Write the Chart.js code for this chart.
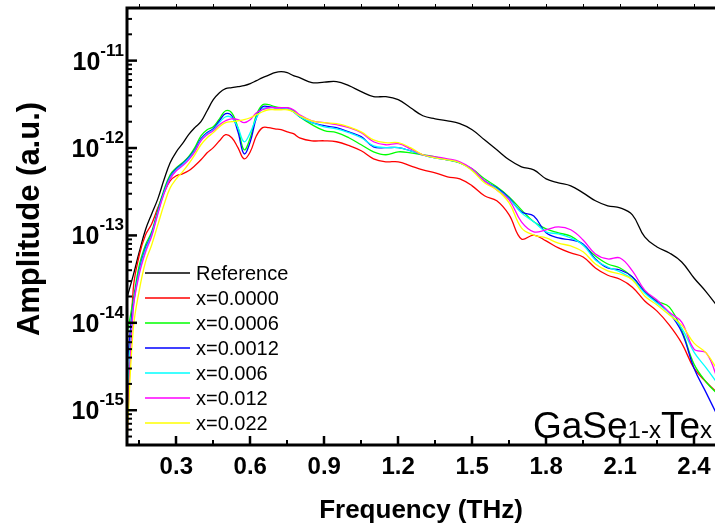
<!DOCTYPE html>
<html><head><meta charset="utf-8">
<script src="https://cdn.jsdelivr.net/npm/chart.js@4.4.0/dist/chart.umd.min.js"></script>
<style>
html,body{margin:0;padding:0;overflow:hidden;background:#fff;width:715px;height:530px}
#wrap{position:relative;width:745px;height:530px}
canvas{display:block}
</style></head>
<body><div id="wrap"><canvas id="c" width="745" height="530"></canvas></div>
<script>
// ---------- data ----------
const freq = [0.1,0.125,0.15,0.175,0.2,0.225,0.25,0.275,0.3,0.325,0.35,0.375,0.4,0.425,0.45,0.475,0.5,0.525,0.55,0.575,0.6,0.625,0.65,0.675,0.7,0.725,0.75,0.775,0.8,
  0.85,0.9,0.95,1.0,1.05,1.1,1.15,1.2,1.25,1.3,1.35,1.4,1.45,1.5,1.55,1.6,1.65,1.7,1.75,1.8,1.85,1.9,1.95,2.0,2.05,2.1,2.15,2.2,2.25,2.3,2.35,2.4,2.45,2.5];

const reference = [1.94e-14,3.46e-14,6.5e-14,1.16e-13,1.76e-13,2.62e-13,4.33e-13,6.78e-13,9.05e-13,1.12e-12,1.42e-12,1.71e-12,2.0e-12,2.67e-12,3.57e-12,4.3e-12,4.78e-12,4.9e-12,5.04e-12,5.17e-12,5.45e-12,5.9e-12,6.39e-12,6.82e-12,7.29e-12,7.48e-12,7.29e-12,6.73e-12,6.39e-12,
  5.6e-12,5.67e-12,5.75e-12,5.17e-12,4.41e-12,3.87e-12,3.87e-12,3.57e-12,2.89e-12,2.34e-12,2.16e-12,2.05e-12,1.9e-12,1.62e-12,1.24e-12,9.55e-13,7.33e-13,6.1e-13,5.63e-13,4.44e-13,4.0e-13,3.69e-13,3.07e-13,2.49e-13,2.18e-13,2.07e-13,1.72e-13,9.6e-14,7.38e-14,6.3e-14,4.97e-14,3.26e-14,2.25e-14,1.48e-14];

const x0000 = [5.9e-16,2.37e-14,5.97e-14,1.01e-13,1.35e-13,2.07e-13,3.07e-13,4.21e-13,4.81e-13,5.07e-13,5.49e-13,6.26e-13,7.33e-13,8.82e-13,1.01e-12,1.21e-12,1.42e-12,1.31e-12,1.01e-12,7.53e-13,9.05e-13,1.38e-12,1.71e-12,1.71e-12,1.66e-12,1.62e-12,1.53e-12,1.46e-12,1.31e-12,
  1.21e-12,1.21e-12,1.18e-12,1.07e-12,9.3e-13,7.53e-13,6.96e-13,6.96e-13,6.26e-13,5.63e-13,5.2e-13,4.68e-13,4.44e-13,3.69e-13,2.84e-13,2.49e-13,1.72e-13,9.1e-14,1.01e-13,8.65e-14,7.19e-14,6.3e-14,5.67e-14,4.24e-14,3.5e-14,3.15e-14,2.56e-14,1.78e-14,1.36e-14,9.42e-15,5.86e-15,3.03e-15,2.09e-15,1.53e-15];

const x0006 = [7.24e-15,1.82e-14,4.59e-14,7.78e-14,1.1e-13,1.96e-13,3.32e-13,4.94e-13,5.94e-13,6.78e-13,7.94e-13,1.01e-12,1.38e-12,1.62e-12,1.75e-12,2.16e-12,2.67e-12,2.53e-12,1.71e-12,9.55e-13,1.31e-12,2.4e-12,3.13e-12,3.13e-12,2.97e-12,2.89e-12,2.89e-12,2.67e-12,2.28e-12,
  1.85e-12,1.58e-12,1.5e-12,1.31e-12,1.09e-12,9.05e-13,8.37e-13,9.05e-13,8.82e-13,8.37e-13,7.94e-13,7.33e-13,6.78e-13,5.78e-13,4.44e-13,3.6e-13,2.76e-13,1.96e-13,1.43e-13,1.19e-13,1.07e-13,9.8e-14,7.78e-14,5.82e-14,4.71e-14,4.24e-14,3.35e-14,2.31e-14,1.78e-14,1.51e-14,8.26e-15,3.37e-15,2.09e-15,1.49e-15];

const x0012 = [3.28e-15,1.6e-14,4.02e-14,7.19e-14,1.04e-13,1.86e-13,3.15e-13,4.68e-13,5.78e-13,6.6e-13,7.73e-13,9.55e-13,1.28e-12,1.5e-12,1.66e-12,2.05e-12,2.47e-12,2.34e-12,1.53e-12,8.59e-13,1.18e-12,2.22e-12,2.97e-12,2.97e-12,2.89e-12,2.89e-12,2.82e-12,2.6e-12,2.28e-12,
  1.95e-12,1.8e-12,1.71e-12,1.53e-12,1.35e-12,1.03e-12,1.01e-12,1.01e-12,9.3e-13,8.37e-13,7.73e-13,7.33e-13,6.78e-13,5.63e-13,4.21e-13,3.5e-13,2.69e-13,1.86e-13,1.67e-13,1.07e-13,9.35e-14,8.88e-14,8.0e-14,5.38e-14,4.24e-14,4.02e-14,3.35e-14,2.25e-14,1.73e-14,1.29e-14,7.83e-15,3.03e-15,1.57e-15,8.1e-16];

const x006 = [1.3e-15,1.48e-14,3.82e-14,6.82e-14,1.01e-13,1.81e-13,3.07e-13,4.56e-13,5.63e-13,6.43e-13,7.53e-13,9.3e-13,1.24e-12,1.46e-12,1.62e-12,1.95e-12,2.28e-12,2.22e-12,1.71e-12,1.18e-12,1.5e-12,2.22e-12,2.82e-12,2.89e-12,2.89e-12,2.89e-12,2.82e-12,2.6e-12,2.28e-12,
  1.95e-12,1.75e-12,1.66e-12,1.5e-12,1.31e-12,1.06e-12,1.01e-12,1.01e-12,9.3e-13,8.37e-13,7.73e-13,7.33e-13,6.78e-13,5.63e-13,4.21e-13,3.41e-13,2.62e-13,1.81e-13,1.43e-13,1.1e-13,1.04e-13,9.35e-14,7.78e-14,5.24e-14,4.35e-14,3.82e-14,3.15e-14,2.19e-14,1.68e-14,1.29e-14,8.71e-15,4.62e-15,3.03e-15,1.94e-15];

const x012 = [4.5e-16,1.4e-14,3.62e-14,6.43e-14,9.8e-14,1.76e-13,2.99e-13,4.44e-13,5.49e-13,6.26e-13,7.33e-13,9.05e-13,1.21e-12,1.42e-12,1.58e-12,1.85e-12,2.05e-12,2.16e-12,2.11e-12,1.95e-12,2.11e-12,2.53e-12,2.74e-12,2.89e-12,2.89e-12,2.89e-12,2.89e-12,2.74e-12,2.4e-12,
  2.05e-12,1.95e-12,1.85e-12,1.71e-12,1.5e-12,1.18e-12,1.09e-12,1.12e-12,9.8e-13,8.37e-13,7.94e-13,7.53e-13,6.96e-13,5.78e-13,4.21e-13,3.32e-13,2.55e-13,1.43e-13,1.1e-13,1.16e-13,1.25e-13,1.16e-13,8.88e-14,6.14e-14,5.38e-14,5.52e-14,3.92e-14,2.37e-14,1.82e-14,1.32e-14,1.02e-14,5.0e-15,4.5e-15,2.09e-15];

const x022 = [4.5e-16,8.26e-15,2.37e-14,4.97e-14,7.78e-14,1.32e-13,2.24e-13,3.5e-13,4.44e-13,5.34e-13,6.6e-13,8.37e-13,1.09e-12,1.31e-12,1.5e-12,1.75e-12,1.95e-12,2.0e-12,2.05e-12,2.11e-12,2.22e-12,2.4e-12,2.6e-12,2.74e-12,2.74e-12,2.74e-12,2.74e-12,2.6e-12,2.34e-12,
  2.05e-12,1.95e-12,1.9e-12,1.75e-12,1.53e-12,1.24e-12,1.15e-12,1.15e-12,1.01e-12,8.37e-13,7.73e-13,7.33e-13,6.78e-13,5.49e-13,4.0e-13,3.32e-13,2.36e-13,1.22e-13,1.01e-13,9.35e-14,8.15e-14,7.58e-14,6.5e-14,4.71e-14,3.92e-14,3.62e-14,3.09e-14,2.03e-14,1.6e-14,1.23e-14,9.42e-15,5.86e-15,4.5e-15,2.73e-15];

const seriesLabels = ['Reference','x=0.0000','x=0.0006','x=0.0012','x=0.006','x=0.012','x=0.022'];
const seriesValues = [reference, x0000, x0006, x0012, x006, x012, x022];
const seriesColors = ['#000000','#ff0000','#00ff00','#0000ff','#00ffff','#ff00ff','#ffff00'];

const xMajorTicks = [0.3,0.6,0.9,1.2,1.5,1.8,2.1,2.4];
const xMajorLabels = ['0.3','0.6','0.9','1.2','1.5','1.8','2.1','2.4'];
const xMinorTicks = [0.15,0.45,0.75,1.05,1.35,1.65,1.95,2.25,2.55];
const yMajorTicks = [1e-15,1e-14,1e-13,1e-12,1e-11];
const yTickExponents = ['-15','-14','-13','-12','-11'];
const xTitle = 'Frequency (THz)';
const yTitle = 'Amplitude (a.u.)';

const FONT = '"Liberation Sans", Arial, Helvetica, sans-serif';

// ---------- decorations drawn with the chart's own scales ----------
const decor = {
  id: 'decor',
  afterDraw(chart) {
    const {ctx, chartArea: a, scales: {x, y}} = chart;
    const seg = (x1, y1, x2, y2) => { ctx.beginPath(); ctx.moveTo(x1, y1); ctx.lineTo(x2, y2); ctx.stroke(); };
    ctx.save();
    ctx.strokeStyle = '#000'; ctx.fillStyle = '#000';

    // bottom ticks (inward)
    ctx.lineWidth = 2.5;
    xMajorTicks.forEach(v => { const p = Math.round(x.getPixelForValue(v)); seg(p, a.bottom, p, a.bottom - 9); });
    ctx.lineWidth = 2;
    xMinorTicks.forEach(v => { const p = Math.round(x.getPixelForValue(v)); seg(p, a.bottom, p, a.bottom - 5); });
    // top ticks (short, outward)
    ctx.lineWidth = 1;
    xMajorTicks.concat(xMinorTicks).forEach(v => { const p = Math.round(x.getPixelForValue(v)) + 0.5; seg(p, a.top, p, a.top - 4); });

    // left ticks (inward)
    ctx.lineWidth = 2.5;
    yMajorTicks.forEach(v => { const p = y.getPixelForValue(v); seg(a.left, p, a.left + 10, p); });
    ctx.lineWidth = 2;
    for (let k = -16; k <= -11; k++) {
      for (let m = 2; m <= 9; m++) {
        const v = m * Math.pow(10, k);
        if (v < y.min || v > y.max) continue;
        const p = y.getPixelForValue(v);
        seg(a.left, p, a.left + 5, p);
      }
    }

    // frame
    ctx.lineWidth = 3;
    ctx.beginPath();
    ctx.moveTo(a.right, a.bottom); ctx.lineTo(a.left, a.bottom); ctx.lineTo(a.left, a.top); ctx.lineTo(a.right, a.top); ctx.lineTo(a.right, a.bottom);
    ctx.stroke();

    // x tick labels
    ctx.font = 'bold 24px ' + FONT;
    ctx.textAlign = 'center'; ctx.textBaseline = 'alphabetic';
    xMajorTicks.forEach((v, i) => ctx.fillText(xMajorLabels[i], x.getPixelForValue(v), 474));

    // y tick labels: 10 with superscript exponent
    yMajorTicks.forEach((v, i) => {
      const p = y.getPixelForValue(v);
      ctx.font = 'bold 17px ' + FONT;
      const ew = ctx.measureText(yTickExponents[i]).width;
      const L = 124 - ew;
      ctx.textAlign = 'left';
      ctx.fillText(yTickExponents[i], L, p - 5);
      ctx.font = 'bold 25px ' + FONT;
      ctx.textAlign = 'right';
      ctx.fillText('10', L, p + 9);
    });

    // axis titles
    ctx.font = 'bold 26px ' + FONT;
    ctx.textAlign = 'center';
    ctx.fillText(xTitle, 421, 518);
    ctx.save();
    ctx.translate(39, 219);
    ctx.rotate(-Math.PI / 2);
    ctx.font = 'bold 31px ' + FONT;
    ctx.fillText(yTitle, 0, 0);
    ctx.restore();

    // legend inside plot
    ctx.font = '20px ' + FONT;
    ctx.textAlign = 'left'; ctx.textBaseline = 'middle';
    chart.data.datasets.forEach((ds, i) => {
      const ry = 273 + i * 25;
      ctx.strokeStyle = ds.borderColor; ctx.lineWidth = 1.3;
      seg(145, ry, 190, ry);
      ctx.fillStyle = '#000';
      ctx.fillText(ds.label, 196, ry + 1);
    });

    // compound label GaSe1-xTex
    ctx.textBaseline = 'alphabetic';
    let cx = 533;
    const parts = [['GaSe', 37], ['1-x', 24], ['Te', 37], ['x', 24]];
    parts.forEach(([t, s]) => {
      ctx.font = s + 'px ' + FONT;
      ctx.fillText(t, cx, 438);
      cx += ctx.measureText(t).width;
    });
    ctx.restore();
  }
};

new Chart(document.getElementById('c'), {
  type: 'line',
  data: {
    datasets: seriesValues.map((vals, i) => ({
      label: seriesLabels[i],
      data: freq.map((f, j) => ({x: f, y: vals[j]})),
      borderColor: seriesColors[i],
      backgroundColor: seriesColors[i],
      borderWidth: 1.3,
      pointRadius: 0,
      tension: 0.4,
      fill: false,
      clip: 0,
      order: seriesValues.length - i
    }))
  },
  options: {
    responsive: false,
    animation: false,
    devicePixelRatio: 1,
    layout: {padding: {left: 127, top: 8, right: 14, bottom: 85}},
    scales: {
      x: {type: 'linear', min: 0.1, max: 2.55, display: false},
      y: {type: 'logarithmic', min: 4e-16, max: 4e-11, display: false}
    },
    plugins: {legend: {display: false}, tooltip: {enabled: false}}
  },
  plugins: [decor]
});
</script>
</body></html>
